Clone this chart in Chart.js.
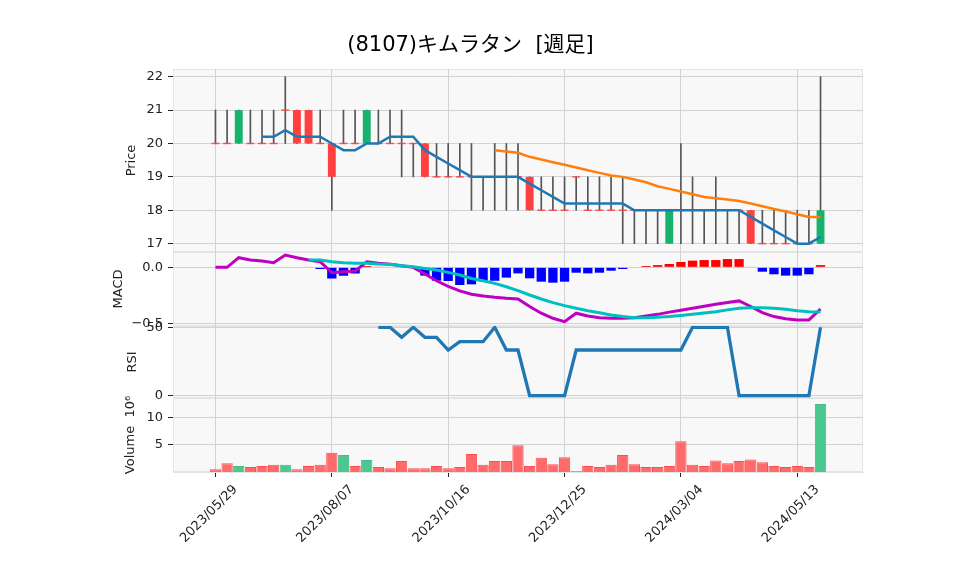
<!DOCTYPE html>
<html><head><meta charset="utf-8">
<script src="https://cdn.jsdelivr.net/npm/chart.js@4.4.1/dist/chart.umd.min.js"></script>
<style>html,body{margin:0;padding:0;background:#fff}#wrap{width:958px;height:575px;position:relative}canvas{display:block}</style>
</head><body><div id="wrap"><canvas id="c" width="958" height="575" style="width:958px;height:575px"></canvas></div>
<script>
const titleText = '(8107)キムラタン  [週足]';
const tickIndex = [0, 10, 20, 30, 40, 50];
const tickLabels = ['2023/05/29', '2023/08/07', '2023/10/16', '2023/12/25', '2024/03/04', '2024/05/13'];

const opens  = [20,20,20,20,20,20,21,21,21,20,20,20,20,20,20,20,20,20,20,19,19,19,19,19,19,19,19,19,18,18,18,19,18,18,18,18,18,18,18,17,18,18,18,18,18,18,18,17,17,17,17,17,17];
const highs  = [21,21,21,21,21,21,22,21,21,21,20,21,21,21,21,21,21,20,20,20,20,20,20,19,20,20,20,19,19,19,19,19,19,19,19,19,18,18,18,18,20,19,18,19,18,18,18,18,18,18,18,18,22];
const lows   = [20,20,20,20,20,20,20,20,20,20,18,20,20,20,20,20,19,19,19,19,19,19,18,18,18,18,18,18,18,18,18,18,18,18,18,17,17,17,17,17,17,17,17,17,17,17,17,17,17,17,17,17,17];
const closes = [20,20,21,20,20,20,21,20,20,20,19,20,20,21,20,20,20,20,19,19,19,19,19,19,19,19,19,18,18,18,18,19,18,18,18,18,18,18,18,18,18,18,18,18,18,18,17,17,17,17,17,17,18];

const ma5 = [null,null,null,null,20.2,20.2,20.4,20.2,20.2,20.2,20.0,19.8,19.8,20.0,20.0,20.2,20.2,20.2,19.8,19.6,19.4,19.2,19.0,19.0,19.0,19.0,19.0,18.8,18.6,18.4,18.2,18.2,18.2,18.2,18.2,18.2,18.0,18.0,18.0,18.0,18.0,18.0,18.0,18.0,18.0,18.0,17.8,17.6,17.4,17.2,17.0,17.0,17.2];
const ma25 = [null,null,null,null,null,null,null,null,null,null,null,null,null,null,null,null,null,null,null,null,null,null,null,null,19.8,19.76,19.72,19.6,19.52,19.44,19.36,19.28,19.2,19.12,19.04,19.0,18.92,18.84,18.72,18.64,18.56,18.48,18.4,18.36,18.32,18.28,18.2,18.12,18.04,17.96,17.88,17.8,17.8];

const macdLine = [0,0,0.086,0.065,0.057,0.042,0.11,0.086,0.065,0.05,-0.048,-0.04,-0.033,0.05,0.036,0.027,0.015,0.0,-0.06,-0.12,-0.17,-0.21,-0.24,-0.256,-0.268,-0.277,-0.283,-0.35,-0.41,-0.455,-0.485,-0.41,-0.435,-0.45,-0.455,-0.455,-0.45,-0.435,-0.42,-0.40,-0.384,-0.366,-0.348,-0.33,-0.315,-0.30,-0.35,-0.405,-0.44,-0.46,-0.47,-0.47,-0.372];
const signalLine = [null,null,null,null,null,null,null,null,0.065,0.065,0.05,0.04,0.036,0.036,0.03,0.027,0.015,0.006,-0.01,-0.024,-0.045,-0.068,-0.1,-0.12,-0.143,-0.173,-0.208,-0.247,-0.283,-0.315,-0.342,-0.366,-0.387,-0.405,-0.426,-0.44,-0.45,-0.45,-0.446,-0.44,-0.43,-0.42,-0.408,-0.396,-0.38,-0.366,-0.36,-0.36,-0.366,-0.375,-0.387,-0.396,-0.40];
const macdHist = [null,null,null,null,null,null,null,null,0.005,-0.015,-0.1,-0.075,-0.055,0.012,0.006,0.004,0.002,0,-0.074,-0.119,-0.122,-0.158,-0.152,-0.125,-0.12,-0.092,-0.054,-0.098,-0.128,-0.137,-0.128,-0.048,-0.054,-0.048,-0.03,-0.015,0,0.012,0.02,0.03,0.048,0.06,0.065,0.065,0.074,0.074,0.005,-0.039,-0.062,-0.074,-0.074,-0.062,0.02];

const rsi = [null,null,null,null,null,null,null,null,null,null,null,null,null,null,50,50,42.7,50,42.7,42.7,33.4,39.5,39.5,39.5,50,33.4,33.4,0,0,0,0,33.4,33.4,33.4,33.4,33.4,33.4,33.4,33.4,33.4,33.4,50,50,50,50,0,0,0,0,0,0,0,50];

const volume = [0.5,1.6,1.1,0.9,1.1,1.3,1.3,0.5,1.1,1.3,3.5,3.1,1.1,2.2,0.9,0.7,2.0,0.7,0.7,1.1,0.7,0.9,3.3,1.3,2.0,2.0,4.9,1.1,2.6,1.4,2.7,0.2,1.1,0.9,1.3,3.1,1.4,0.9,0.9,1.1,5.6,1.3,1.1,2.1,1.6,2.0,2.3,1.8,1.1,0.9,1.1,0.9,12.4];

const priceTicks = [17, 18, 19, 20, 21, 22];
const macdTicks = [-0.5, 0.0];
const macdTickLabels = ['\u22120.5', '0.0'];
const rsiTicks = [0, 50];
const volTicks = [5, 10];

const FONT = "'DejaVu Sans', 'Noto Sans CJK JP', sans-serif";
const UP = '#17b26b', DOWN = '#ff4040';

const pts = arr => arr.map((v, i) => ({x: i, y: v}));
const wickData = highs.map((h, i) => ({x: i, y: [lows[i], h]}));
const bodyData = opens.map((o, i) => {
  const c = closes[i];
  return o === c ? {x: i, y: [c - 0.022, c + 0.022]} : {x: i, y: [Math.min(o, c), Math.max(o, c)]};
});
const bodyColors = opens.map((o, i) => closes[i] > o ? UP : (closes[i] < o ? DOWN : 'rgba(255,60,60,0.85)'));
const volUp = closes.map((c, i) => i > 0 && c > closes[i - 1]);

const panelBg = {
  id: 'panelBg',
  beforeDraw(chart) {
    const {ctx, chartArea} = chart;
    ctx.save();
    ctx.fillStyle = '#f8f8f8';
    ctx.fillRect(chartArea.left, chartArea.top, chartArea.right - chartArea.left, chartArea.bottom - chartArea.top);
    ctx.strokeStyle = '#e4e4e4';
    ctx.lineWidth = 1;
    ['yPrice', 'yMacd', 'yRsi', 'yVol'].forEach(id => {
      const s = chart.scales[id];
      ctx.strokeRect(chartArea.left + 0.5, s.top + 0.5, chartArea.right - chartArea.left - 1, s.bottom - s.top - 1);
    });
    ctx.restore();
  }
};

const yCommon = (weight, ticksArr, labelsArr, titleText, titlePad) => ({
  position: 'left', stack: 'panels', stackWeight: weight, offset: false,
  grid: {color: '#d2d2d2', lineWidth: 1, tickColor: '#222', tickLength: 5, drawTicks: true, offset: false},
  border: {display: true, color: '#e4e4e4'},
  ticks: {
    font: {family: FONT, size: 13}, color: '#222', padding: 5,
    callback: (v) => { const k = ticksArr.indexOf(v); return k >= 0 ? labelsArr[k] : ''; }
  },
  afterBuildTicks: s => { s.ticks = ticksArr.map(v => ({value: v})); },
  afterFit: s => { s.width = 95; },
  title: {display: true, text: titleText, font: {family: FONT, size: 13}, color: '#222', padding: {top: titlePad, bottom: 0}}
});

const chart = new Chart(document.getElementById('c'), {
  data: {
    datasets: [
      {type: 'bar', label: 'wick', data: wickData, xAxisID: 'x', yAxisID: 'yPrice', backgroundColor: '#555', barThickness: 1, grouped: false, order: 20},
      {type: 'bar', label: 'body', data: bodyData, xAxisID: 'x', yAxisID: 'yPrice', backgroundColor: bodyColors, barPercentage: 0.68, categoryPercentage: 1, grouped: false, order: 19},
      {type: 'line', label: 'ma25', data: pts(ma25), xAxisID: 'x', yAxisID: 'yPrice', borderColor: '#ff7f0e', borderWidth: 2.5, pointRadius: 0, tension: 0, order: 18},
      {type: 'line', label: 'ma5', data: pts(ma5), xAxisID: 'x', yAxisID: 'yPrice', borderColor: '#1f77b4', borderWidth: 2.5, pointRadius: 0, tension: 0, order: 17},
      {type: 'bar', label: 'hist', data: pts(macdHist), xAxisID: 'x', yAxisID: 'yMacd', backgroundColor: macdHist.map(v => v !== null && v >= 0 ? '#ff0000' : '#0000ff'), barPercentage: 0.8, categoryPercentage: 1, grouped: false, order: 16},
      {type: 'line', label: 'macd', data: pts(macdLine), xAxisID: 'x', yAxisID: 'yMacd', borderColor: '#bf00bf', borderWidth: 3, pointRadius: 0, tension: 0, order: 15},
      {type: 'line', label: 'signal', data: pts(signalLine), xAxisID: 'x', yAxisID: 'yMacd', borderColor: '#00bfbf', borderWidth: 3, pointRadius: 0, tension: 0, order: 14},
      {type: 'line', label: 'rsi', data: pts(rsi), xAxisID: 'x', yAxisID: 'yRsi', borderColor: '#1f77b4', borderWidth: 3.3, pointRadius: 0, tension: 0, order: 13},
      {type: 'bar', label: 'volume', data: pts(volume), xAxisID: 'x', yAxisID: 'yVol', backgroundColor: volUp.map(u => u ? '#4cc78f' : '#ff6b6b'), borderColor: volUp.map(u => u ? '#3fbf85' : '#ff4d4d'), borderWidth: 1, barPercentage: 0.97, categoryPercentage: 1, grouped: false, order: 12}
    ]
  },
  options: {
    responsive: false, animation: false, devicePixelRatio: 1,
    layout: {padding: {left: 78, right: 95, top: 0, bottom: 0}},
    plugins: {
      legend: {display: false}, tooltip: {enabled: false},
      title: {display: true, text: titleText, font: {family: FONT, size: 21, weight: 'normal', lineHeight: 1.0}, color: '#000', padding: {top: 35, bottom: 13}}
    },
    scales: {
      x: {
        type: 'linear', position: 'bottom', min: -3.65, max: 55.65, offset: false,
        grid: {color: '#d2d2d2', tickColor: '#222', tickLength: 5, offset: false},
        border: {display: true, color: '#e4e4e4'},
        ticks: {
          autoSkip: false, minRotation: 45, maxRotation: 45, labelOffset: 20, padding: 5,
          font: {family: FONT, size: 13}, color: '#222',
          callback: (v) => { const k = tickIndex.indexOf(v); return k >= 0 ? tickLabels[k] : ''; }
        },
        afterBuildTicks: s => { s.ticks = tickIndex.map(v => ({value: v})); },
        afterFit: s => { s.height = 103; }
      },
      yVol: Object.assign(yCommon(74, volTicks, ['5', '10'], 'Volume  10\u2076', 45), {min: 0, max: 13.5}),
      yRsi: Object.assign(yCommon(72, rsiTicks, ['0', '50'], 'RSI', 46.7), {min: -1.68, max: 50.95}),
      yMacd: Object.assign(yCommon(74, macdTicks, macdTickLabels, 'MACD', 33.2), {min: -0.524, max: 0.137}),
      yPrice: Object.assign(yCommon(183, priceTicks, priceTicks.map(String), 'Price', 45.7), {min: 16.75, max: 22.23})
    }
  },
  plugins: [panelBg]
});
</script>
</body></html>
